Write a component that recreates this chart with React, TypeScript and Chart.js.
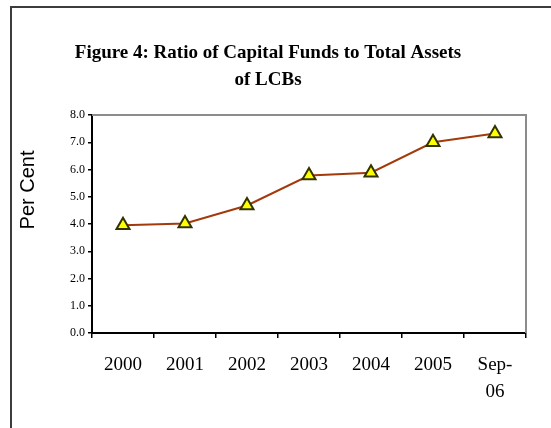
import React, { useEffect, useRef } from "react";
import { Chart, registerables } from "chart.js";

Chart.register(...registerables);

const categories: (string | string[])[] = ["2000", "2001", "2002", "2003", "2004", "2005", ["Sep-", "06"]];
const ratioValues: number[] = [3.95, 4.02, 4.68, 5.78, 5.88, 7.0, 7.32];
const titleLines: string[] = ["Figure 4: Ratio of Capital Funds to Total Assets", "of LCBs"];
const yAxisTitle = "Per Cent";

const framePlugin = {
  id: "framePlugin",
  beforeDraw(chart: any) {
    const ctx = chart.ctx;
    ctx.save();
    ctx.fillStyle = "#ffffff";
    ctx.fillRect(0, 0, chart.width, chart.height);
    ctx.strokeStyle = "#3c3c3c";
    ctx.lineWidth = 2;
    ctx.beginPath();
    ctx.moveTo(11, chart.height);
    ctx.lineTo(11, 7);
    ctx.lineTo(chart.width, 7);
    ctx.stroke();
    ctx.restore();
  },
  afterDraw(chart: any) {
    const ctx = chart.ctx;
    ctx.save();
    ctx.fillStyle = "#000";
    ctx.textAlign = "center";
    ctx.textBaseline = "middle";
    ctx.font = "bold 19px 'Liberation Serif', 'Times New Roman', serif";
    ctx.fillText(titleLines[0], 268, 53);
    ctx.fillText(titleLines[1], 268, 80);
    ctx.translate(28, 190);
    ctx.rotate(-Math.PI / 2);
    ctx.font = "20px 'Liberation Sans', Arial, sans-serif";
    ctx.fillText(yAxisTitle, 0, 0);
    ctx.restore();
  },
  beforeDatasetsDraw(chart: any) {
    const ctx = chart.ctx;
    const a = chart.chartArea;
    ctx.save();
    ctx.strokeStyle = "#8c8c8c";
    ctx.lineWidth = 2;
    ctx.beginPath();
    ctx.moveTo(a.left, a.top);
    ctx.lineTo(a.right, a.top);
    ctx.lineTo(a.right, a.bottom);
    ctx.stroke();
    ctx.restore();
  },
};

export default function App() {
  const ref = useRef<HTMLCanvasElement | null>(null);
  useEffect(() => {
    if (!ref.current) return;
    const chart = new Chart(ref.current, {
      type: "line",
      data: {
        labels: categories,
        datasets: [
          {
            data: ratioValues,
            borderColor: "#a33a0c",
            borderWidth: 2,
            pointStyle: "triangle",
            pointRadius: 7.5,
            pointBackgroundColor: "#ffff00",
            pointBorderColor: "#333300",
            pointBorderWidth: 2,
            tension: 0,
          },
        ],
      },
      options: {
        animation: false,
        responsive: false,
        devicePixelRatio: 1,
        layout: { padding: { left: 52, top: 115, right: 25, bottom: 15 } },
        plugins: { legend: { display: false }, tooltip: { enabled: false }, title: { display: false } },
        scales: {
          x: {
            offset: true,
            grid: { offset: true, drawOnChartArea: false, tickLength: 5, color: "#000", lineWidth: 1.5 },
            border: { color: "#000", width: 2 },
            ticks: {
              color: "#000",
              font: { family: "'Liberation Serif', 'Times New Roman', serif", size: 19, lineHeight: 1.4 },
              padding: 14,
              maxRotation: 0,
              autoSkip: false,
            },
            afterFit(scale: any) {
              scale.height = 80;
            },
          },
          y: {
            min: 0,
            max: 8,
            grid: { drawOnChartArea: false, tickLength: 4, color: "#000", lineWidth: 1.5 },
            border: { color: "#000", width: 2 },
            ticks: {
              stepSize: 1,
              color: "#000",
              padding: 3,
              font: { family: "'Liberation Serif', 'Times New Roman', serif", size: 12 },
              callback: (v: any) => Number(v).toFixed(1),
            },
            afterFit(scale: any) {
              scale.width = 40;
            },
          },
        },
      },
      plugins: [framePlugin],
    });
    return () => chart.destroy();
  }, []);
  return (
    <div style={{ position: "fixed", left: 0, top: 0, width: 551, height: 428 }}>
      <canvas ref={ref} width={551} height={428} style={{ width: 551, height: 428, display: "block" }} />
    </div>
  );
}
